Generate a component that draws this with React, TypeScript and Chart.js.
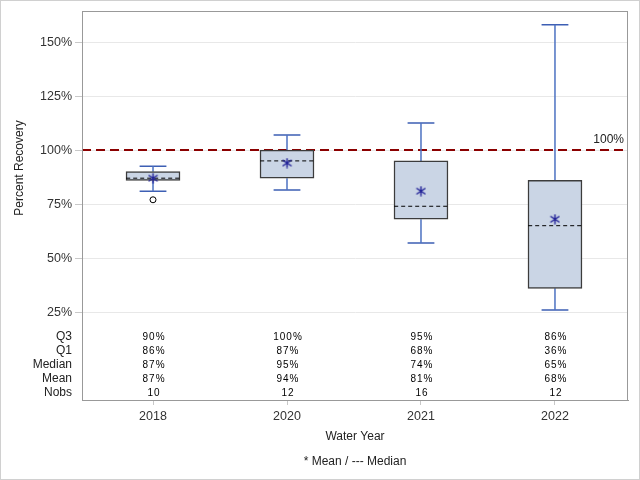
import React, { useEffect, useRef } from "react";
import { Chart, registerables } from "chart.js";

Chart.register(...registerables);

// ---- data ----
const categories = ["2018", "2020", "2021", "2022"];
const q1Values = [86, 87, 68, 36];
const q3Values = [90, 100, 95, 86];
const medianValues = [87, 95, 74, 65];
const meanValues = [87, 94, 81, 68];
const whiskerLow = [81, 81.5, 57, 26];
const whiskerHigh = [92.5, 107, 112.5, 158];
const nobsValues = [10, 12, 16, 12];
const outlierCategory = [0];
const outlierValues = [77];
const referenceValue = 100;
const yTickValues = [25, 50, 75, 100, 125, 150];
const tableRowLabels = ["Q3", "Q1", "Median", "Mean", "Nobs"];

const X_MIN = -0.53;
const X_MAX = 3.545;
const Y_MIN = -15.7;
const Y_MAX = 164.4;
const FONT = "'Liberation Sans', Arial, sans-serif";

function makeStar(): HTMLCanvasElement {
  const c = document.createElement("canvas");
  c.width = 11;
  c.height = 11;
  const g = c.getContext("2d")!;
  g.strokeStyle = "#1e1e96";
  g.lineWidth = 1.4;
  g.beginPath();
  g.moveTo(5.5, 0.5);
  g.lineTo(5.5, 10.5);
  g.moveTo(1, 2.5);
  g.lineTo(10, 8.5);
  g.moveTo(1, 8.5);
  g.lineTo(10, 2.5);
  g.stroke();
  return c;
}

export default function App() {
  const ref = useRef<HTMLCanvasElement | null>(null);

  useEffect(() => {
    const canvas = ref.current;
    if (!canvas) return;

    const whiskerData: any[] = [];
    const capData: any[] = [];
    const medianData: any[] = [];
    categories.forEach((_, i) => {
      whiskerData.push({ x: i, y: q3Values[i] }, { x: i, y: whiskerHigh[i] }, { x: i, y: null });
      whiskerData.push({ x: i, y: q1Values[i] }, { x: i, y: whiskerLow[i] }, { x: i, y: null });
      capData.push({ x: i - 0.1, y: whiskerHigh[i] }, { x: i + 0.1, y: whiskerHigh[i] }, { x: i, y: null });
      capData.push({ x: i - 0.1, y: whiskerLow[i] }, { x: i + 0.1, y: whiskerLow[i] }, { x: i, y: null });
      medianData.push({ x: i - 0.2, y: medianValues[i] }, { x: i + 0.2, y: medianValues[i] }, { x: i, y: null });
    });

    const tableRows = [
      q3Values.map((v) => v + "%"),
      q1Values.map((v) => v + "%"),
      medianValues.map((v) => v + "%"),
      meanValues.map((v) => v + "%"),
      nobsValues.map((v) => String(v)),
    ];

    const decor = {
      id: "decor",
      beforeDraw(chart: any) {
        const ctx = chart.ctx;
        ctx.save();
        ctx.fillStyle = "#ffffff";
        ctx.fillRect(0, 0, chart.width, chart.height);
        ctx.restore();
      },
      afterDraw(chart: any) {
        const ctx = chart.ctx;
        const { left, right, top, bottom } = chart.chartArea;
        const xs = chart.scales.x;
        const ys = chart.scales.y;
        ctx.save();
        // plot frame
        ctx.strokeStyle = "#999999";
        ctx.lineWidth = 1;
        ctx.strokeRect(Math.round(left) + 0.5, Math.round(top) + 0.5, Math.round(right - left) - 1, Math.round(bottom - top));
        // outer frame
        ctx.strokeStyle = "#d0d0d0";
        ctx.strokeRect(0.5, 0.5, chart.width - 1, chart.height - 1);

        // reference label
        ctx.fillStyle = "#222";
        ctx.font = `12px ${FONT}`;
        ctx.textAlign = "right";
        ctx.textBaseline = "middle";
        ctx.fillText(referenceValue + "%", right - 4, ys.getPixelForValue(referenceValue) - 10);

        // stats table
        const rowOffsets = [63, 49, 35, 21, 7];
        tableRowLabels.forEach((lab, r) => {
          const y = bottom - rowOffsets[r];
          ctx.font = `12px ${FONT}`;
          ctx.fillStyle = "#222";
          ctx.textAlign = "right";
          ctx.fillText(lab, left - 10, y);
          ctx.font = `10px ${FONT}`;
          ctx.fillStyle = "#000";
          ctx.textAlign = "center";
          (ctx as any).letterSpacing = "1px";
          tableRows[r].forEach((txt, i) => {
            ctx.fillText(txt, xs.getPixelForValue(i) + 1, y);
          });
          (ctx as any).letterSpacing = "0px";
        });

        // titles
        ctx.font = `12px ${FONT}`;
        ctx.fillStyle = "#222";
        ctx.textAlign = "center";
        ctx.fillText("Water Year", (left + right) / 2, 437);
        ctx.fillText("* Mean / --- Median", (left + right) / 2, 462);
        ctx.translate(20, 168);
        ctx.rotate(-Math.PI / 2);
        ctx.fillText("Percent Recovery", 0, 0);
        ctx.restore();
      },
    };

    const chart = new Chart(canvas, {
      type: "bar",
      data: {
        datasets: [
          {
            type: "line",
            label: "reference",
            data: [
              { x: X_MIN, y: referenceValue },
              { x: X_MAX, y: referenceValue },
            ],
            borderColor: "#8b0000",
            borderWidth: 2,
            borderDash: [9, 5],
            pointRadius: 0,
            order: 7,
          } as any,
          {
            type: "line",
            label: "whiskers",
            data: whiskerData,
            borderColor: "#4d72c2",
            borderWidth: 1.5,
            pointRadius: 0,
            spanGaps: false,
            order: 6,
          } as any,
          {
            type: "line",
            label: "caps",
            data: capData,
            borderColor: "#3d5fb4",
            borderWidth: 1.5,
            pointRadius: 0,
            spanGaps: false,
            order: 6,
          } as any,
          {
            type: "bar",
            label: "box",
            data: categories.map((_, i) => ({ x: i, y: [q1Values[i], q3Values[i]] })),
            backgroundColor: "#cad5e5",
            borderColor: "#3c3c3c",
            borderWidth: 1.5,
            borderSkipped: false,
            barThickness: 54,
            order: 5,
          } as any,
          {
            type: "line",
            label: "median",
            data: medianData,
            borderColor: "#000000",
            borderWidth: 1,
            borderDash: [4, 3],
            pointRadius: 0,
            spanGaps: false,
            order: 4,
          } as any,
          {
            type: "scatter",
            label: "mean",
            data: meanValues.map((v, i) => ({ x: i, y: v })),
            pointStyle: makeStar(),
            pointRadius: 5,
            order: 3,
          } as any,
          {
            type: "scatter",
            label: "outlier",
            data: outlierCategory.map((c, k) => ({ x: c, y: outlierValues[k] })),
            pointStyle: "circle",
            pointRadius: 3,
            borderColor: "#000000",
            borderWidth: 1,
            backgroundColor: "rgba(0,0,0,0)",
            order: 2,
          } as any,
        ],
      },
      options: {
        animation: false,
        responsive: false,
        events: [],
        layout: { padding: { top: 11, right: 12, left: 0, bottom: 0 } },
        plugins: { legend: { display: false }, tooltip: { enabled: false } },
        scales: {
          x: {
            type: "linear",
            offset: false,
            min: X_MIN,
            max: X_MAX,
            afterBuildTicks: (s: any) => {
              s.ticks = categories.map((_, i) => ({ value: i }));
            },
            afterFit: (s: any) => {
              s.height = 80;
            },
            ticks: {
              callback: (v: any) => categories[Math.round(Number(v))] ?? "",
              color: "#333",
              font: { family: FONT, size: 12.5 },
              padding: 4,
              maxRotation: 0,
            },
            grid: { offset: false, drawOnChartArea: false, tickLength: 5, tickColor: "#c8c8c8" },
            border: { display: true, color: "#999999" },
          } as any,
          y: {
            type: "linear",
            min: Y_MIN,
            max: Y_MAX,
            afterBuildTicks: (s: any) => {
              s.ticks = yTickValues.map((v) => ({ value: v }));
            },
            afterFit: (s: any) => {
              s.width = 82;
            },
            ticks: {
              callback: (v: any) => v + "%",
              color: "#333",
              font: { family: FONT, size: 12.5 },
              padding: 3,
            },
            grid: { color: "#e8e8e8", tickLength: 7, tickColor: "#c8c8c8" },
            border: { display: true, color: "#999999" },
          } as any,
        },
      },
      plugins: [decor],
    });

    return () => chart.destroy();
  }, []);

  return (
    <div style={{ position: "fixed", left: 0, top: 0, width: 640, height: 480 }}>
      <canvas ref={ref} width={640} height={480} style={{ display: "block" }} />
    </div>
  );
}
